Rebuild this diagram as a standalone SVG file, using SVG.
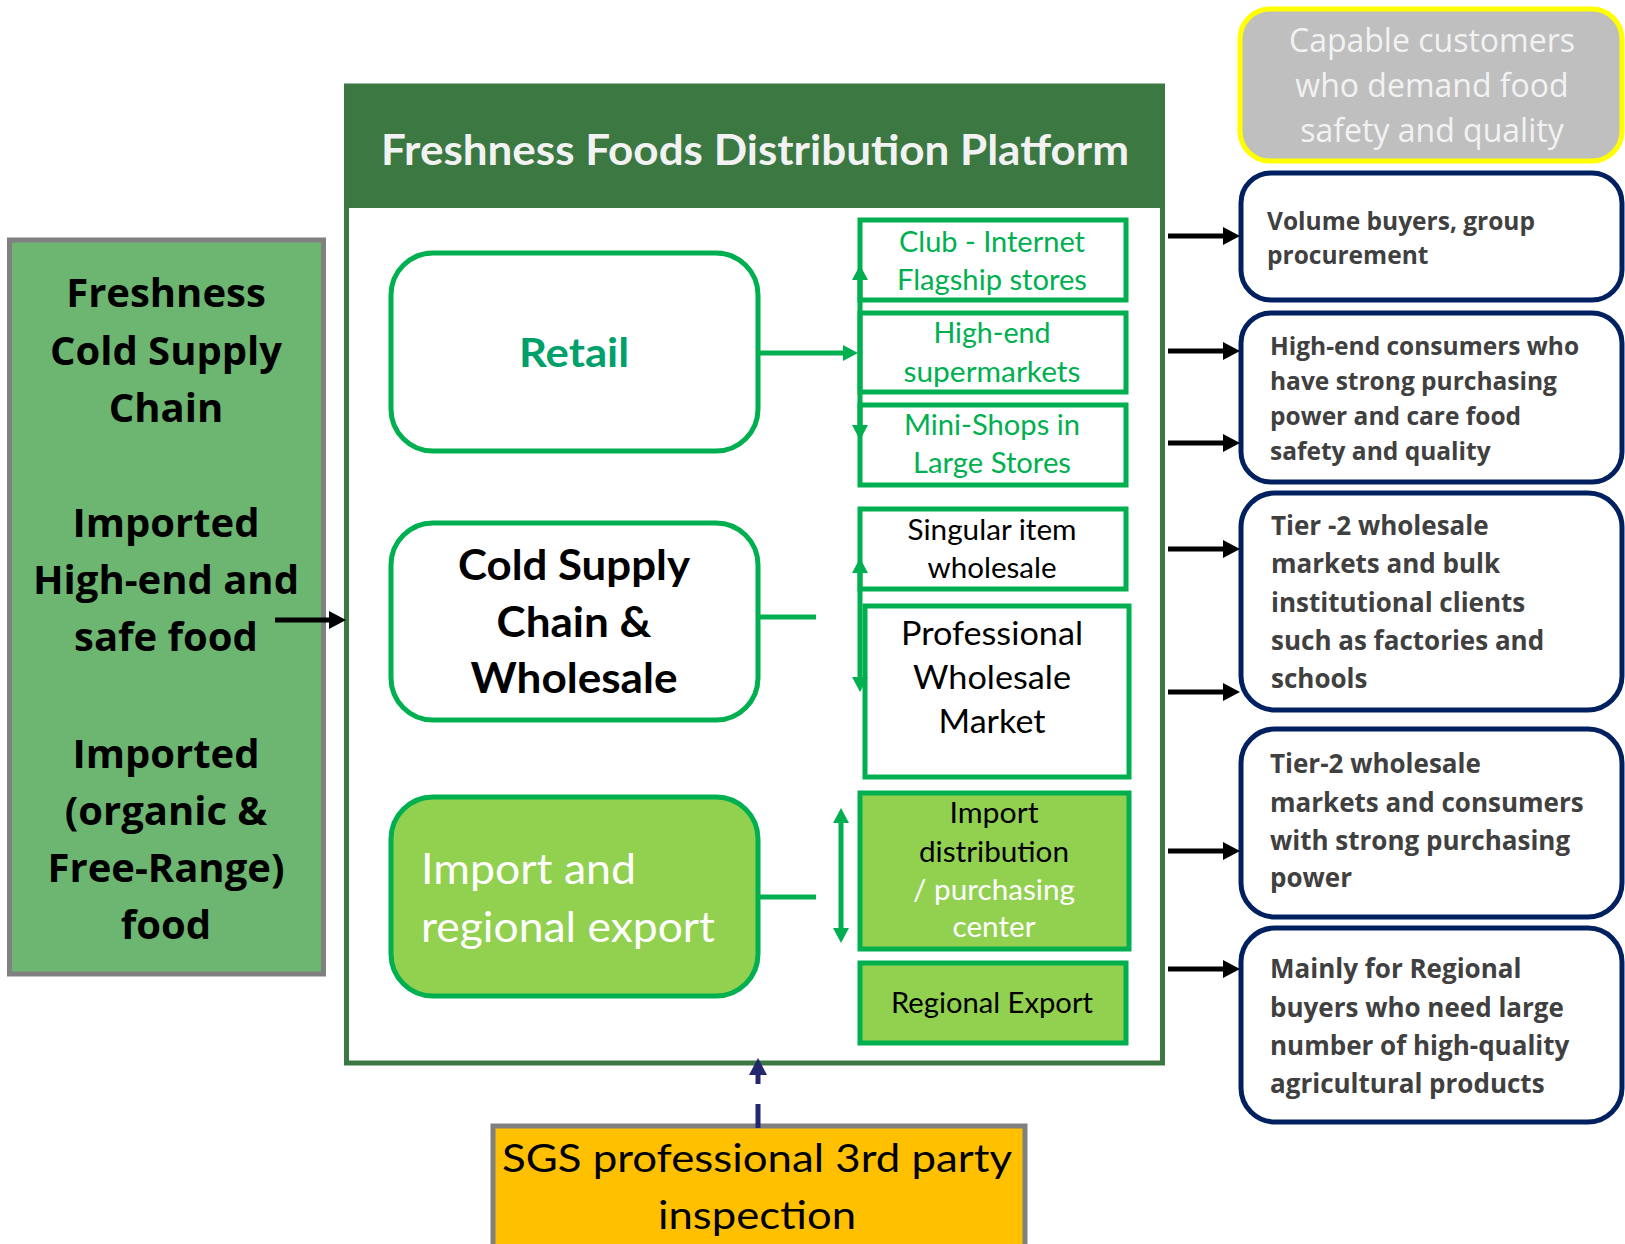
<svg xmlns="http://www.w3.org/2000/svg" width="1625" height="1244" viewBox="0 0 1625 1244">
<style>
.cal{font-family:Lato,"Open Sans","Liberation Sans",sans-serif}
.os{font-family:"Open Sans","Liberation Sans",sans-serif}
.sub{fill:#fff;stroke:#00b050;stroke-width:5}
.subg{fill:#92d050;stroke:#00b050;stroke-width:5}
.rb{fill:#fff;stroke:#00b050;stroke-width:5}
.cust{fill:#fff;stroke:#002060;stroke-width:5}
.ct{font-family:"Open Sans","Liberation Sans",sans-serif;font-weight:700;fill:#404040}
.gl{stroke:#00b050;stroke-width:5;fill:none}
.bl{stroke:#000;stroke-width:5;fill:none}
</style>
<defs>
<marker id="ab" markerUnits="userSpaceOnUse" markerWidth="18" markerHeight="18" refX="2" refY="9" orient="auto"><path d="M0,0 L17,9 L0,18 z" fill="#000"/></marker>
<marker id="ag" markerUnits="userSpaceOnUse" markerWidth="16" markerHeight="16" refX="2" refY="8" orient="auto-start-reverse"><path d="M0,0 L15,8 L0,16 z" fill="#00b050"/></marker>
<marker id="an" markerUnits="userSpaceOnUse" markerWidth="18" markerHeight="18" refX="2" refY="9" orient="auto"><path d="M0,0 L17,9 L0,18 z" fill="#22276e"/></marker>
</defs>

<g id="platform">
<rect x="346.5" y="86" width="816" height="977" fill="#fff" stroke="#3b7842" stroke-width="5"/>
<rect x="346.5" y="86" width="816" height="122" fill="#3b7842"/>
<text class="cal" x="755" y="165" font-size="42" font-weight="700" fill="#f2f2f2" text-anchor="middle" textLength="748" lengthAdjust="spacingAndGlyphs">Freshness Foods Distribution Platform</text>
</g>

<g id="source">
<rect x="9.5" y="240" width="314" height="734" fill="#6db672" stroke="#808080" stroke-width="5"/>
<g class="os" font-size="40" font-weight="700" fill="#000" text-anchor="middle">
<text x="166" y="307">Freshness</text>
<text x="166" y="365">Cold Supply</text>
<text x="166" y="422">Chain</text>
<text x="166" y="537">Imported</text>
<text x="166" y="594">High-end and</text>
<text x="166" y="651">safe food</text>
<text x="166" y="768">Imported</text>
<text x="166" y="825">(organic &amp;</text>
<text x="166" y="882">Free-Range)</text>
<text x="166" y="939">food</text>
</g>
</g>

<g id="retail">
<rect class="rb" x="391" y="253" width="367" height="198" rx="42"/>
<text class="cal" x="574" y="367" font-size="40" font-weight="700" fill="#00a06a" text-anchor="middle" textLength="110" lengthAdjust="spacingAndGlyphs">Retail</text>
</g>
<g id="club">
<rect class="sub" x="860" y="220" width="266" height="80"/>
<text class="cal" x="992" y="252" font-size="28" fill="#00b050" text-anchor="middle" textLength="186" lengthAdjust="spacingAndGlyphs">Club - Internet</text>
<text class="cal" x="992" y="290" font-size="28" fill="#00b050" text-anchor="middle" textLength="190" lengthAdjust="spacingAndGlyphs">Flagship stores</text>
</g>
<g id="highend">
<rect class="sub" x="860" y="313" width="266" height="79"/>
<text class="cal" x="992" y="343" font-size="28" fill="#00b050" text-anchor="middle" textLength="117" lengthAdjust="spacingAndGlyphs">High-end</text>
<text class="cal" x="992" y="382" font-size="28" fill="#00b050" text-anchor="middle" textLength="177" lengthAdjust="spacingAndGlyphs">supermarkets</text>
</g>
<g id="minishops">
<rect class="sub" x="860" y="405" width="266" height="80"/>
<text class="cal" x="992" y="435" font-size="28" fill="#00b050" text-anchor="middle" textLength="176" lengthAdjust="spacingAndGlyphs">Mini-Shops in</text>
<text class="cal" x="992" y="473" font-size="28" fill="#00b050" text-anchor="middle" textLength="158" lengthAdjust="spacingAndGlyphs">Large Stores</text>
</g>

<g id="coldwholesale">
<rect class="rb" x="391" y="523" width="367" height="197" rx="42"/>
<g class="cal" font-size="42" font-weight="700" fill="#000" text-anchor="middle">
<text x="574" y="580" textLength="232" lengthAdjust="spacingAndGlyphs">Cold Supply</text>
<text x="574" y="637" textLength="155" lengthAdjust="spacingAndGlyphs">Chain &amp;</text>
<text x="574" y="693" textLength="207" lengthAdjust="spacingAndGlyphs">Wholesale</text>
</g>
</g>
<g id="singular">
<rect class="sub" x="860" y="509" width="266" height="80"/>
<text class="cal" x="992" y="540" font-size="28" fill="#000" text-anchor="middle" textLength="169" lengthAdjust="spacingAndGlyphs">Singular item</text>
<text class="cal" x="992" y="578" font-size="28" fill="#000" text-anchor="middle" textLength="129" lengthAdjust="spacingAndGlyphs">wholesale</text>
</g>
<g id="professional">
<rect class="sub" x="865" y="606" width="264" height="171"/>
<text class="cal" x="992" y="645" font-size="32" fill="#000" text-anchor="middle" textLength="182" lengthAdjust="spacingAndGlyphs">Professional</text>
<text class="cal" x="992" y="689" font-size="32" fill="#000" text-anchor="middle" textLength="158" lengthAdjust="spacingAndGlyphs">Wholesale</text>
<text class="cal" x="992" y="733" font-size="32" fill="#000" text-anchor="middle" textLength="107" lengthAdjust="spacingAndGlyphs">Market</text>
</g>

<g id="importexport">
<rect x="391" y="797" width="367" height="199" rx="42" fill="#92d050" stroke="#00b050" stroke-width="5"/>
<text class="cal" x="421" y="884" font-size="42" fill="#fff" textLength="215" lengthAdjust="spacingAndGlyphs">Import and</text>
<text class="cal" x="421" y="942" font-size="42" fill="#fff" textLength="294" lengthAdjust="spacingAndGlyphs">regional export</text>
</g>
<g id="importcenter">
<rect class="subg" x="860" y="793" width="269" height="156"/>
<text class="cal" x="994" y="823" font-size="28" fill="#000" text-anchor="middle" textLength="89" lengthAdjust="spacingAndGlyphs">Import</text>
<text class="cal" x="994" y="862" font-size="28" fill="#000" text-anchor="middle" textLength="150" lengthAdjust="spacingAndGlyphs">distribution</text>
<text class="cal" x="994" y="900" font-size="28" fill="#fff" text-anchor="middle" textLength="162" lengthAdjust="spacingAndGlyphs">/ purchasing</text>
<text class="cal" x="994" y="937" font-size="28" fill="#fff" text-anchor="middle" textLength="83" lengthAdjust="spacingAndGlyphs">center</text>
</g>
<g id="regionalexport">
<rect class="subg" x="860" y="963" width="266" height="80"/>
<text class="cal" x="992" y="1013" font-size="28" fill="#000" text-anchor="middle" textLength="202" lengthAdjust="spacingAndGlyphs">Regional Export</text>
</g>

<g id="sgs">
<rect x="493" y="1126" width="532" height="130" fill="#ffc000" stroke="#808080" stroke-width="5"/>
<text class="cal" x="757" y="1172" font-size="38" fill="#000" text-anchor="middle" textLength="510" lengthAdjust="spacingAndGlyphs">SGS professional 3rd party</text>
<text class="cal" x="757" y="1229" font-size="38" fill="#000" text-anchor="middle" textLength="198" lengthAdjust="spacingAndGlyphs">inspection</text>
</g>

<g id="capable">
<rect x="1240" y="9" width="382" height="152" rx="30" fill="#bfbfbf" stroke="#ffff00" stroke-width="5"/>
<g class="os" font-size="32" fill="#f2f2f2" text-anchor="middle">
<text x="1432" y="52">Capable customers</text>
<text x="1432" y="97">who demand food</text>
<text x="1432" y="142">safety and quality</text>
</g>
</g>
<g id="volume">
<rect class="cust" x="1241" y="173" width="381" height="127" rx="30"/>
<text class="ct" x="1267" y="230" font-size="24.5">Volume buyers, group</text>
<text class="ct" x="1267" y="264" font-size="24.5">procurement</text>
</g>
<g id="highendconsumers">
<rect class="cust" x="1241" y="313" width="381" height="169" rx="30"/>
<text class="ct" x="1270" y="355" font-size="24.5">High-end consumers who</text>
<text class="ct" x="1270" y="390" font-size="24.5">have strong purchasing</text>
<text class="ct" x="1270" y="425" font-size="24.5">power and care food</text>
<text class="ct" x="1270" y="460" font-size="24.5">safety and quality</text>
</g>
<g id="tier2bulk">
<rect class="cust" x="1241" y="493" width="381" height="217" rx="34"/>
<text class="ct" x="1271" y="535" font-size="26">Tier -2 wholesale</text>
<text class="ct" x="1271" y="573" font-size="26">markets and bulk</text>
<text class="ct" x="1271" y="612" font-size="26">institutional clients</text>
<text class="ct" x="1271" y="650" font-size="26">such as factories and</text>
<text class="ct" x="1271" y="688" font-size="26">schools</text>
</g>
<g id="tier2consumers">
<rect class="cust" x="1241" y="729" width="381" height="188" rx="34"/>
<text class="ct" x="1270" y="773" font-size="26">Tier-2 wholesale</text>
<text class="ct" x="1270" y="812" font-size="26">markets and consumers</text>
<text class="ct" x="1270" y="850" font-size="26">with strong purchasing</text>
<text class="ct" x="1270" y="887" font-size="26">power</text>
</g>
<g id="regionalbuyers">
<rect class="cust" x="1241" y="928" width="381" height="194" rx="34"/>
<text class="ct" x="1270" y="978" font-size="26">Mainly for Regional</text>
<text class="ct" x="1270" y="1017" font-size="26">buyers who need large</text>
<text class="ct" x="1270" y="1055" font-size="26">number of high-quality</text>
<text class="ct" x="1270" y="1093" font-size="26">agricultural products</text>
</g>

<g id="connectors">
<line class="bl" x1="275" y1="620" x2="331" y2="620" marker-end="url(#ab)"/>
<line class="gl" x1="758" y1="353" x2="845" y2="353" marker-end="url(#ag)"/>
<line class="gl" x1="860" y1="278" x2="860" y2="427" marker-start="url(#ag)" marker-end="url(#ag)"/>
<line class="gl" x1="758" y1="617" x2="816" y2="617"/>
<line class="gl" x1="860" y1="571" x2="860" y2="679" marker-start="url(#ag)" marker-end="url(#ag)"/>
<line class="gl" x1="758" y1="897" x2="816" y2="897"/>
<line class="gl" x1="841" y1="821" x2="841" y2="930" marker-start="url(#ag)" marker-end="url(#ag)"/>
<line class="bl" x1="1168" y1="236" x2="1225" y2="236" marker-end="url(#ab)"/>
<line class="bl" x1="1168" y1="351" x2="1225" y2="351" marker-end="url(#ab)"/>
<line class="bl" x1="1168" y1="443" x2="1225" y2="443" marker-end="url(#ab)"/>
<line class="bl" x1="1168" y1="549" x2="1225" y2="549" marker-end="url(#ab)"/>
<line class="bl" x1="1168" y1="692" x2="1225" y2="692" marker-end="url(#ab)"/>
<line class="bl" x1="1168" y1="851" x2="1225" y2="851" marker-end="url(#ab)"/>
<line class="bl" x1="1168" y1="969" x2="1225" y2="969" marker-end="url(#ab)"/>
<line x1="758" y1="1128" x2="758" y2="1073" stroke="#22276e" stroke-width="5" stroke-dasharray="24 20" marker-end="url(#an)"/>
</g>
</svg>
